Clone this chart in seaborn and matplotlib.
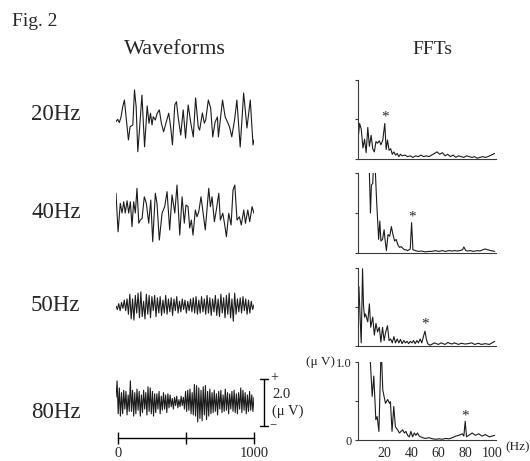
import numpy as np
import matplotlib
matplotlib.use("Agg")
import matplotlib.pyplot as plt
import seaborn as sns

# ---------------- data ----------------
row_labels = ["20Hz", "40Hz", "50Hz", "80Hz"]
stim_freqs = [20, 40, 50, 80]

# waveforms: time (ms) and amplitude (uV)
wave20_t = [0, 12, 24, 37, 49, 61, 73, 90, 102, 122, 134, 146, 158, 170, 188, 207, 226, 239,
            250, 261, 270, 285, 299, 314, 329, 345, 365, 382, 396, 409, 426, 438, 450, 469,
            487, 504, 523, 542, 560, 577, 596, 606, 626, 640, 650, 669, 686, 701, 718, 735,
            742, 772, 791, 808, 823, 839, 859, 876, 900, 925, 949, 973, 993, 1000]
wave20_uv = [-0.07, 0.03, -0.11, 0.14, 0.57, 0.85, 0.14, -0.85, -0.29, -0.21, 1.28, 0.57,
             -1.35, -0.43, 1.06, -1.14, 0.60, -0.14, 0.29, -0.21, 0.14, 0.0, 0.29, 0.43,
             -0.14, -0.50, -0.07, 0.29, -0.29, -1.06, 0.64, 0.78, 0.14, -0.64, 0.43, -0.77,
             0.64, -0.13, -0.72, 0.94, -0.30, -0.43, 0.30, -0.13, 0.0, 0.85, 0.51, -0.72,
             -0.09, 0.13, -0.72, 0.85, 0.13, -0.09, -0.30, -0.72, 0.0, 0.85, -1.15, 1.15,
             -0.34, 0.85, -1.06, -0.85]

wave40_t = [0, 15, 31, 44, 56, 67, 80, 92, 104, 116, 128, 140, 152, 165, 176, 189, 205, 220,
            237, 252, 266, 285, 297, 314, 334, 353, 370, 389, 406, 426, 442, 462, 479, 495,
            507, 522, 534, 546, 558, 575, 587, 600, 616, 630, 647, 672, 684, 696, 713, 727,
            745, 756, 774, 788, 800, 817, 834, 848, 861, 877, 894, 908, 926, 938, 955, 969,
            986, 1000]
wave40_uv = [0.84, -0.80, 0.41, 0.0, 0.48, 0.0, 0.52, 0.0, 0.48, -0.58, 0.48, 0.0, 1.05,
             -0.43, -0.30, -0.23, 0.69, 0.41, -0.43, 0.55, -1.22, 0.84, 0.41, -1.15, 0.0,
             0.27, 0.91, -0.72, 0.77, 0.0, 1.19, -0.94, 0.69, -0.43, 0.34, 0.27, -0.64,
             -0.30, -0.94, 0.13, -0.16, 0.06, 0.69, 0.06, -0.72, 1.05, 0.27, 0.69, -0.37,
             0.13, 0.84, -0.30, -0.01, -0.51, -1.01, -0.01, -0.51, 0.98, 1.19, -0.30, -0.16,
             -0.51, 0.13, -0.44, 0.13, -0.37, 0.27, -0.01]

wave50_step_ms = 10
wave50_uv = [0.0, -0.15, 0.1, -0.2, 0.15, -0.1, 0.25, -0.2, 0.3, -0.35,
             0.5, -0.55, 0.3, -0.6, 0.45, -0.3, 0.55, -0.5, 0.6, -0.45,
             0.2, -0.55, 0.5, -0.35, 0.45, -0.5, 0.4, -0.2, 0.45, -0.45,
             0.35, -0.3, 0.4, -0.4, 0.25, -0.3, 0.45, -0.35, 0.3, -0.25,
             0.35, -0.4, 0.3, -0.2, 0.4, -0.3, 0.2, -0.25, 0.3, -0.15,
             0.25, -0.3, 0.2, -0.2, 0.3, -0.25, 0.35, -0.3, 0.4, -0.35,
             0.25, -0.3, 0.4, -0.25, 0.3, -0.35, 0.45, -0.3, 0.35, -0.4,
             0.3, -0.25, 0.45, -0.4, 0.3, -0.45, 0.5, -0.3, 0.35, -0.5,
             0.45, -0.35, 0.55, -0.5, 0.3, -0.65, 0.55, -0.35, 0.3, -0.25,
             0.35, -0.3, 0.4, -0.2, 0.3, -0.35, 0.25, -0.3, 0.2, -0.15, 0.05]

wave80_step_ms = 8
wave80_uv = [0.2, 0.9, -0.5, 0.6, -0.6, 0.4, -0.5,
             0.5, -0.3, 0.45, -0.55, 0.3, -0.4,
             0.9, -0.4, 0.5, -0.6,
             0.4, -0.5, 0.55, -0.35, 0.45, -0.6, 0.3, -0.45, 0.5, -0.3, 0.4, -0.55,
             0.65, -0.4, 0.6, -0.5, 0.45, -0.6, 0.35,
             -0.45, 0.35, -0.3, 0.45, -0.5, 0.25, -0.35, 0.4, -0.3, 0.3, -0.45, 0.35, -0.25, 0.3,
             -0.2, 0.15, -0.3, 0.2, -0.15, 0.25, -0.25, 0.1, -0.2, 0.25, -0.15, 0.2, -0.3,
             0.45, -0.4, 0.5, -0.35, 0.55, -0.5, 0.4, -0.55,
             0.75, -0.6, 0.7, -0.85, 0.6, -0.7, 0.5, -0.8, 0.65, -0.55, 0.7, -0.75, 0.45, -0.6,
             0.55, -0.5, 0.4,
             -0.45, 0.5, -0.4, 0.35, -0.55, 0.45, -0.3, 0.5, -0.45, 0.3, -0.4, 0.55, -0.35, 0.4,
             -0.5, 0.35, -0.3, 0.45, -0.4,
             0.5, -0.45, 0.35, -0.5, 0.4, -0.3, 0.6, -0.45, 0.5, -0.35, 0.4, -0.5, 0.3, -0.4,
             0.45, -0.35, 0.3, -0.4, 0.2]

# FFTs: frequency (Hz) and amplitude (uV)
fft20_f = [0, 1.2, 2.4, 3.7, 4.9, 6.1, 7.3, 8.5, 9.8, 11, 12.2, 13.4, 14.6, 15.9, 17.1, 18.5,
           20, 21, 22, 23.2, 24.4, 25.6, 26.8, 28, 29.3, 30.5, 31.7, 33, 35, 37, 39, 41, 43,
           45, 47, 49, 51, 53, 55, 57, 59, 61, 63, 65, 67, 69, 71, 73, 75, 77, 79, 81, 83,
           85, 87, 89, 91, 93, 95, 97, 102]
fft20_uv = [0.24, 0.45, 0.38, 0.14, 0.25, 0.08, 0.40, 0.16, 0.30, 0.13, 0.09, 0.22, 0.20,
            0.23, 0.18, 0.24, 0.45, 0.12, 0.24, 0.11, 0.13, 0.06, 0.09, 0.05, 0.07, 0.03,
            0.06, 0.04, 0.05, 0.03, 0.04, 0.02, 0.04, 0.03, 0.05, 0.03, 0.04, 0.03, 0.05,
            0.07, 0.09, 0.06, 0.08, 0.04, 0.06, 0.03, 0.05, 0.02, 0.04, 0.03, 0.02, 0.04,
            0.03, 0.02, 0.03, 0.01, 0.02, 0.03, 0.02, 0.03, 0.07]

fft40_f = [8, 9.3, 10, 11, 11.8, 12.6, 13.9, 15.4, 16.3, 17.1, 18.3, 19.5, 20.3, 21.2, 22.4,
           23.7, 24.9, 26.1, 27.3, 28.5, 29.8, 31, 32.2, 33.4, 34.6, 35.9, 37.1, 39, 40, 41,
           43, 45, 47, 50, 53, 55, 58, 60, 63, 65, 68, 70, 72, 74, 76, 78, 79, 80.5, 82, 84,
           86, 89, 91, 93, 95, 97, 99, 102]
fft40_uv = [1.3, 0.5, 0.85, 0.87, 1.2, 1.15, 0.65, 0.17, 0.40, 0.15, 0.17, 0.29, 0.15, 0.03,
            0.23, 0.21, 0.33, 0.23, 0.15, 0.17, 0.10, 0.07, 0.08, 0.06, 0.04, 0.04, 0.03,
            0.05, 0.38, 0.04, 0.03, 0.02, 0.025, 0.015, 0.02, 0.02, 0.03, 0.02, 0.03, 0.02,
            0.03, 0.025, 0.03, 0.025, 0.03, 0.04, 0.075, 0.03, 0.025, 0.03, 0.02, 0.03,
            0.025, 0.04, 0.05, 0.04, 0.03, 0.02]

fft50_f = [0, 0.7, 1.7, 2.4, 3.4, 4.1, 4.9, 5.6, 6.6, 7.3, 8.5, 9.5, 11, 12.2, 13.4, 14.6,
           15.9, 17.1, 18.3, 19.5, 20.7, 22, 23.2, 24.4, 25.6, 26.8, 28, 29.3, 30.5, 31.7,
           32.9, 34.2, 35.4, 36.6, 37.8, 39, 40.3, 41.5, 42.7, 43.9, 45.1, 46.4, 47.6, 48.8,
           50, 51, 52, 53.7, 55, 57, 60, 62, 65, 67, 70, 72, 75, 77, 80, 82, 85, 87, 90, 92,
           95, 98, 102]
fft50_uv = [0.65, 0.76, 0.31, 0.04, 0.99, 0.52, 0.37, 0.41, 0.35, 0.31, 0.54, 0.24, 0.37,
            0.14, 0.29, 0.18, 0.24, 0.05, 0.24, 0.07, 0.18, 0.26, 0.07, 0.09, 0.04, 0.12,
            0.04, 0.09, 0.04, 0.085, 0.03, 0.07, 0.04, 0.06, 0.03, 0.06, 0.04, 0.07, 0.03,
            0.07, 0.04, 0.09, 0.04, 0.12, 0.19, 0.09, 0.03, 0.01, 0.02, 0.04, 0.02, 0.04,
            0.02, 0.045, 0.025, 0.04, 0.02, 0.035, 0.025, 0.03, 0.04, 0.02, 0.035, 0.02,
            0.03, 0.02, 0.06]

fft80_f = [8.6, 10.6, 11.8, 13.3, 14.3, 15.6, 17.3, 18.5, 20.5, 22.2, 23.5, 24.2, 25.4,
           26.7, 27.9, 29.6, 30.9, 32.1, 33.3, 34.6, 35.8, 37, 38.3, 39.5, 40.7, 42, 43.2,
           44.4, 45.7, 48, 50.5, 53, 55.5, 58, 60.5, 63, 65.5, 68, 70.5, 73, 75.3, 77.8,
           79, 80, 81, 82.7, 85.2, 87.7, 90.1, 92.6, 95.1, 98, 102]
fft80_uv = [1.2, 0.56, 0.82, 0.26, 0.30, 0.11, 1.2, 0.64, 0.47, 0.52, 0.47, 0.49, 0.11,
            0.43, 0.17, 0.13, 0.09, 0.11, 0.13, 0.09, 0.11, 0.06, 0.04, 0.11, 0.04, 0.09,
            0.06, 0.09, 0.05, 0.03, 0.02, 0.03, 0.015, 0.01, 0.015, 0.01, 0.02, 0.015, 0.03,
            0.05, 0.06, 0.08, 0.05, 0.24, 0.04, 0.06, 0.09, 0.06, 0.08, 0.05, 0.07, 0.04,
            0.06]

star_uv = [0.53, 0.45, 0.28, 0.31]

fft_yticks = [0, 0.5, 1.0]
fft_yticklabels = ["0", "", "1.0"]
fft_xticks = [20, 40, 60, 80, 100]
time_ticks = [0, 500, 1000]
time_ticklabels = ["0", "", "1000"]
scale_bar_uv = 2.0

# ---------------- style ----------------
sns.set_style("white")
plt.rcParams["font.family"] = ["Liberation Serif", "DejaVu Serif"]

W, H = 530, 461
fig = plt.figure(figsize=(W / 100, H / 100), dpi=100)


def px_axes(x0, y0, x1, y1):
    return fig.add_axes([x0 / W, 1 - y1 / H, (x1 - x0) / W, (y1 - y0) / H])


def ftext(x, y, s, **kw):
    fig.text(x / W, 1 - y / H, s, **kw)


LC = "#1c1c1c"
PX_PER_UV = 23.5

waves = [
    (wave20_t, wave20_uv),
    (wave40_t, wave40_uv),
    (list(np.arange(len(wave50_uv)) * wave50_step_ms), wave50_uv),
    (list(np.arange(len(wave80_uv)) * wave80_step_ms), wave80_uv),
]
wave_centers = [120, 213, 306, 402]
label_y = [115, 212, 305, 412]

# titles
ftext(12, 22, "Fig. 2", fontsize=14, va="center", ha="left")
ftext(175, 50, "Waveforms", fontsize=16, va="center", ha="center")
ftext(432, 50, "FFTs", fontsize=14, va="center", ha="center")

wave_axes = []
for (t, v), cy, lab, ly in zip(waves, wave_centers, row_labels, label_y):
    ax = px_axes(116, cy - 45, 254, cy + 45)
    sns.lineplot(x=t, y=v, ax=ax, color=LC, linewidth=0.8, estimator=None,
                 sort=False, errorbar=None)
    ax.set_xlim(0, 1000)
    ax.set_ylim(-45 / PX_PER_UV, 45 / PX_PER_UV)
    ax.axis("off")
    wave_axes.append(ax)
    ftext(31, ly, lab, fontsize=16.5, va="center", ha="left")

# scale bar on the 80 Hz waveform axis
ax80 = wave_axes[3]
half = scale_bar_uv / 2
xb = 1070
ax80.plot([xb, xb], [-half, half], color="black", lw=1.0, clip_on=False)
ax80.plot([xb - 30, xb + 30], [half, half], color="black", lw=1.0, clip_on=False)
ax80.plot([xb - 30, xb + 30], [-half, -half], color="black", lw=1.0, clip_on=False)
ax80.text(xb + 45, half + 0.05, "+", fontsize=10, va="center", ha="left")
ax80.text(xb + 45, -half, "\u2212", fontsize=9, va="center", ha="left")
ax80.text(xb + 60, 0.30, f"{scale_bar_uv:.1f}", fontsize=10.5, va="center", ha="left")
ax80.text(xb + 60, -0.38, "(\u03bc V)", fontsize=10.5, va="center", ha="left")

# time axis
tax = px_axes(118, 428, 254, 438)
tax.set_xlim(0, 1000)
tax.set_ylim(0, 1)
tax.patch.set_alpha(0)
for s in ["top", "left", "right"]:
    tax.spines[s].set_visible(False)
tax.spines["bottom"].set_color("black")
tax.spines["bottom"].set_linewidth(1.0)
tax.set_yticks([])
tax.set_xticks(time_ticks)
tax.set_xticklabels(time_ticklabels)
tax.tick_params(axis="x", direction="inout", length=9, width=1.0, color="black",
                labelsize=10.5, pad=2, bottom=True)

# FFT panels
ffts = [(fft20_f, fft20_uv), (fft40_f, fft40_uv), (fft50_f, fft50_uv), (fft80_f, fft80_uv)]
fft_boxes = [(80, 159), (173, 253), (268, 346), (362, 440)]
for i, ((f, v), (y0, y1), sf, su) in enumerate(zip(ffts, fft_boxes, stim_freqs, star_uv)):
    ax = px_axes(358, y0, 496, y1)
    sns.lineplot(x=f, y=v, ax=ax, color=LC, linewidth=0.8, estimator=None,
                 sort=False, errorbar=None)
    ax.set_xlim(0, 103)
    ax.set_ylim(0, 1.0)
    ax.patch.set_alpha(0)
    sns.despine(ax=ax)
    for s in ["left", "bottom"]:
        ax.spines[s].set_color("#3a3a3a")
        ax.spines[s].set_linewidth(0.8)
    ax.set_yticks(fft_yticks)
    ax.tick_params(axis="y", direction="out", length=2.5, width=0.8, color="#3a3a3a",
                   left=True, labelsize=9, pad=2)
    ax.text(sf, su, "*", fontsize=11, ha="center", va="center")
    if i == 3:
        ax.set_yticklabels(fft_yticklabels)
        ax.set_xticks(fft_xticks)
        ax.tick_params(axis="x", length=0, labelsize=10, pad=5)
        ax.text(-0.17, 1.0, "(\u03bc V)", transform=ax.transAxes, fontsize=9.5,
                ha="right", va="center")
        ax.text(1.065, -0.02, "(Hz)", transform=ax.transAxes, fontsize=9.5,
                ha="left", va="top")
    else:
        ax.set_yticklabels([])
        ax.set_xticks([])

fig.savefig("out.png", dpi=100)
